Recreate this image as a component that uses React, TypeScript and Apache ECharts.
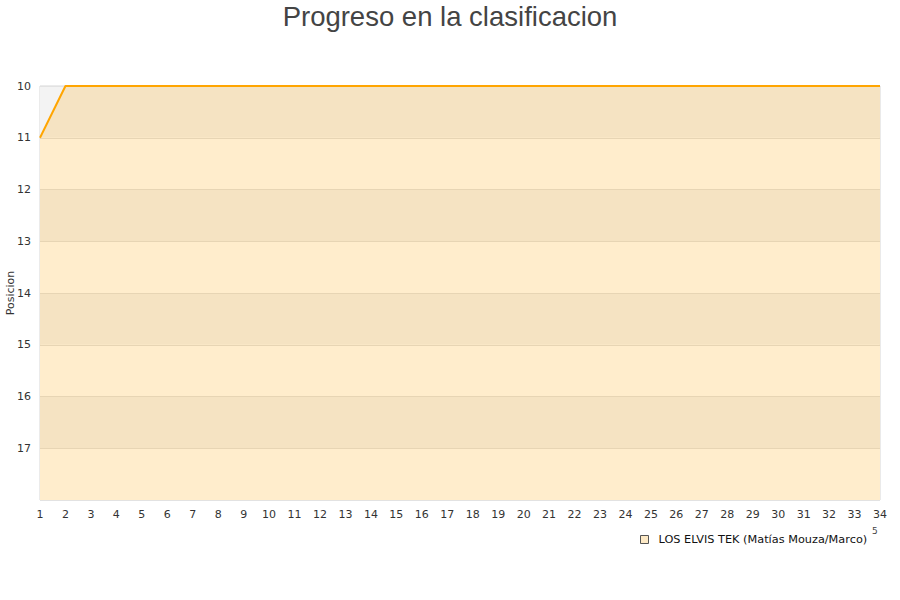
import React, { useEffect, useRef } from "react";
import * as echarts from "echarts";

const jornadas: string[] = Array.from({ length: 34 }, (_, i) => String(i + 1));
const posiciones: number[] = [
  11, 10, 10, 10, 10, 10, 10, 10, 10, 10, 10, 10, 10, 10, 10, 10, 10,
  10, 10, 10, 10, 10, 10, 10, 10, 10, 10, 10, 10, 10, 10, 10, 10, 10,
];
const teamName = "LOS ELVIS TEK (Matías Mouza/Marco)";
const titleText = "Progreso en la clasificacion";
const yAxisName = "Posicion";

export default function App() {
  const ref = useRef<HTMLDivElement>(null);
  useEffect(() => {
    if (!ref.current) return;
    const chart = echarts.init(ref.current, undefined, { renderer: "svg" });
    chart.setOption({
      animation: false,
      backgroundColor: "#ffffff",
      title: {
        text: titleText,
        left: "center",
        top: -3,
        textStyle: {
          fontFamily: "Liberation Sans, Arial, sans-serif",
          fontSize: 27.5,
          fontWeight: "normal",
          color: "#444444",
        },
      },
      grid: {
        left: 40,
        right: 20,
        top: 86,
        bottom: 100,
        containLabel: false,
        outerBoundsMode: "none",
        show: true,
        borderColor: "#d6d6d6",
        borderWidth: 1,
        backgroundColor: "transparent",
      },
      legend: {
        left: 635,
        top: 529,
        icon: "rect",
        itemWidth: 8,
        itemHeight: 8,
        itemGap: 8,
        data: [
          {
            name: teamName,
            itemStyle: { color: "#fde9c5", borderColor: "#555555", borderWidth: 1 },
          },
        ],
        textStyle: {
          fontFamily: "DejaVu Sans, sans-serif",
          fontSize: 11.3,
          color: "#111111",
          padding: [0, 0, 0, 5],
        },
      },
      graphic: [
        {
          type: "text",
          left: 872,
          top: 526,
          style: { text: "5", fontSize: 9, fill: "#444", fontFamily: "DejaVu Sans, sans-serif" },
        },
      ],
      xAxis: {
        type: "category",
        data: jornadas,
        boundaryGap: false,
        axisLine: { show: false },
        axisTick: { show: false },
        splitLine: { show: false },
        axisLabel: {
          interval: 0,
          margin: 9,
          fontFamily: "DejaVu Sans, sans-serif",
          fontSize: 11,
          color: "#333333",
        },
      },
      yAxis: {
        type: "value",
        inverse: true,
        min: 10,
        max: 18,
        interval: 1,
        name: yAxisName,
        nameLocation: "middle",
        nameGap: 24,
        nameMoveOverlap: false,
        nameTextStyle: {
          fontFamily: "DejaVu Sans, sans-serif",
          fontSize: 11,
          color: "#333333",
        },
        axisLine: { show: false },
        axisTick: { show: false },
        axisLabel: {
          margin: 9,
          fontFamily: "DejaVu Sans, sans-serif",
          fontSize: 11,
          color: "#333333",
          formatter: (v: number) => (v >= 18 ? "" : String(v)),
        },
        splitLine: { show: true, lineStyle: { color: "#e2e2e2", width: 1 } },
        splitArea: { show: true, areaStyle: { color: ["#f3f3f3", "#ffffff"] } },
      },
      series: [
        {
          name: teamName,
          type: "line",
          data: posiciones,
          showSymbol: false,
          symbol: "none",
          lineStyle: { color: "#ffa500", width: 2 },
          itemStyle: { color: "#ffa500" },
          areaStyle: { color: "#ffa500", opacity: 0.2, origin: "end" },
        },
      ],
    });
    return () => chart.dispose();
  }, []);
  return (
    <div
      ref={ref}
      style={{ position: "absolute", left: 0, top: 0, width: 900, height: 600 }}
    />
  );
}
